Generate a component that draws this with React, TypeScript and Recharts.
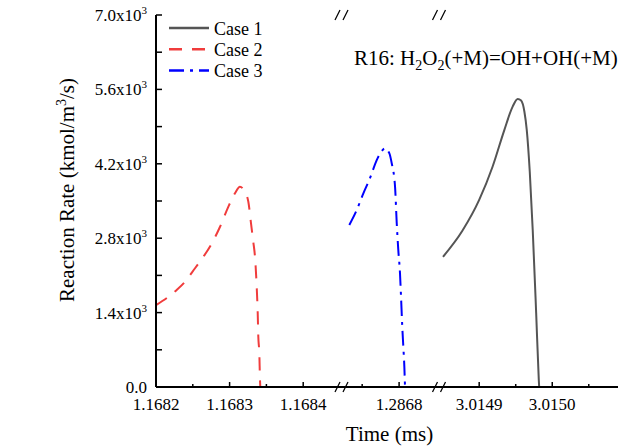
import React from "react";
import { LineChart, Line, XAxis, YAxis, Legend } from "recharts";

const FONT = '"Liberation Serif", "Times New Roman", Times, serif';

// ---------- axes ----------
const rateDomain: [number, number] = [0, 7000];
const rateMajorTicks = [0, 1400, 2800, 4200, 5600, 7000];
const rateMinorTicks = [700, 2100, 3500, 4900, 6300];

// broken time axis (ms): three segments
const seg1Domain: [number, number] = [1.1682, 1.16845];
const seg1MajorTicks = [1.1682, 1.1683, 1.1684];
const seg1MinorTicks = [1.16825, 1.16835];

const seg2Domain: [number, number] = [1.28672, 1.286854];
const seg2MajorTicks = [1.2868];
const seg2MinorTicks = [1.28675];

const seg3Domain: [number, number] = [3.014845, 3.01509];
const seg3MajorTicks = [3.0149, 3.015];
const seg3MinorTicks = [3.01495, 3.01505];

// ---------- data ----------
// Case 1 (solid gray)
const case1Seg1Time = [1.1682, 1.16845];
const case1Seg1Rate = [0, 0];
const case1Seg2Time = [1.28672, 1.286854];
const case1Seg2Rate = [0, 0];
const case1Seg3Time = [
  3.0148505, 3.014877, 3.0149, 3.0149183, 3.0149344, 3.0149458, 3.0149527, 3.0149574,
  3.0149619, 3.0149651, 3.0149692, 3.0149733, 3.014978, 3.0149816, 3.0149821,
];
const case1Seg3Rate = [
  2450, 2940, 3520, 4145, 4835, 5275, 5420, 5390, 5180, 4840, 4060, 2950, 1390, 130, 0,
];

// Case 2 (red dashed)
const case2Seg1Time = [
  1.1682, 1.1682281, 1.1682394, 1.168253, 1.1682643, 1.1682757, 1.168287, 1.1682982,
  1.1683073, 1.1683141, 1.1683196, 1.1683254, 1.1683291, 1.1683322, 1.1683345, 1.1683368,
  1.1683382, 1.168339, 1.1683404, 1.1683413, 1.1683417,
];
const case2Seg1Rate = [
  1540, 1825, 1980, 2235, 2450, 2700, 3015, 3390, 3645, 3770, 3700, 3490, 3080, 2730, 2450,
  1890, 1390, 950, 630, 130, 0,
];

// Case 3 (blue dash-dot)
const case3Seg1Time = [1.1682, 1.16845];
const case3Seg1Rate = [0, 0];
const case3Seg2Time = [
  1.2867326, 1.2867426, 1.2867515, 1.2867606, 1.2867697, 1.2867755, 1.2867809, 1.2867867,
  1.28679, 1.2867945, 1.2867968, 1.2867989, 1.2868012, 1.2868026, 1.2868043, 1.2868057,
  1.2868071, 1.286808,
];
const case3Seg2Rate = [
  3050, 3330, 3640, 3930, 4270, 4420, 4490, 4400, 4210, 3770, 3080, 2580, 2140, 1700, 1130,
  760, 380, 0,
];

type Pt = { t: number; v: number };
const zip = (ts: number[], vs: number[]): Pt[] => ts.map((t, i) => ({ t, v: vs[i] }));

const seriesStyle: Record<string, { stroke: string; dash?: string }> = {
  "Case 1": { stroke: "#555555" },
  "Case 2": { stroke: "#F03C3C", dash: "13 10" },
  "Case 3": { stroke: "#0000FF", dash: "15 6 3 6" },
};

const AXIS_LINE = { stroke: "#000", strokeWidth: 2 };

const isIn = (list: number[], v: number) => list.some((m) => Math.abs(m - v) < 1e-9);

const makeXTick = (major: number[]) => (props: any) => {
  const { x, y, payload } = props;
  const mj = isIn(major, payload.value);
  return (
    <g>
      <line x1={x} x2={x} y1={y} y2={y - (mj ? 5 : 3)} stroke="#000" strokeWidth={1.5} />
      {mj && (
        <text x={x} y={y + 23} textAnchor="middle" fontSize={17} fontFamily={FONT} fill="#000">
          {Number(payload.value).toFixed(4)}
        </text>
      )}
    </g>
  );
};

const YTick = (props: any) => {
  const { x, y, payload } = props;
  const v = payload.value;
  const mj = isIn(rateMajorTicks, v);
  return (
    <g>
      <line x1={x} x2={x + 6} y1={y} y2={y} stroke="#000" strokeWidth={1.5} />
      {mj && (
        <text x={x - 9} y={y + 6} textAnchor="end" fontSize={17} fontFamily={FONT} fill="#000">
          {v === 0 ? (
            "0.0"
          ) : (
            <>
              {(v / 1000).toFixed(1)}x10
              <tspan dy={-7} fontSize={11}>
                3
              </tspan>
            </>
          )}
        </text>
      )}
    </g>
  );
};

const YTitle = () => (
  <text
    transform="translate(74,190) rotate(-90)"
    textAnchor="middle"
    fontSize={21}
    fontFamily={FONT}
    fill="#000"
  >
    Reaction Rate (kmol/m
    <tspan dy={-8} fontSize={14}>
      3
    </tspan>
    <tspan dy={8}>/s)</tspan>
  </text>
);

const LegendBox = (props: any) => {
  const payload = props.payload || [];
  return (
    <svg width={120} height={66} style={{ display: "block" }}>
      {payload.map((entry: any, i: number) => {
        const s = seriesStyle[entry.value] || { stroke: entry.color };
        const cy = 11 + i * 21.2;
        return (
          <g key={entry.value}>
            <line
              x1={4}
              x2={44}
              y1={cy}
              y2={cy}
              stroke={s.stroke}
              strokeWidth={2.5}
              strokeDasharray={s.dash}
            />
            <text x={49} y={cy + 6.5} fontSize={18} fontFamily={FONT} fill="#000">
              {entry.value}
            </text>
          </g>
        );
      })}
    </svg>
  );
};

const lineProps = (name: string, curve: "monotone" | "linear" = "monotone") => ({
  type: curve,
  dataKey: "v",
  name,
  stroke: seriesStyle[name].stroke,
  strokeDasharray: seriesStyle[name].dash,
  strokeWidth: 2,
  dot: false,
  activeDot: false,
  isAnimationActive: false,
});

const MARGIN = { top: 15, right: 0, bottom: 0, left: 0 };

const bottomAxis = (domain: [number, number], major: number[], minor: number[], extra = {}) => (
  <XAxis
    type="number"
    dataKey="t"
    domain={domain}
    ticks={[...major, ...minor]}
    interval={0}
    tickSize={0}
    tickMargin={0}
    tickLine={false}
    tick={makeXTick(major)}
    axisLine={AXIS_LINE}
    height={61}
    {...extra}
  />
);

const topAxis = (domain: [number, number]) => (
  <XAxis
    xAxisId="top"
    orientation="top"
    type="number"
    domain={domain}
    height={0}
    tick={false}
    tickLine={false}
    axisLine={AXIS_LINE}
  />
);

export default function App() {
  const breakMark = (cx: number, cy: number) => (
    <g key={`${cx}-${cy}`} stroke="#000" strokeWidth={1.3}>
      <line x1={cx - 6.5} y1={cy + 5} x2={cx - 1.5} y2={cy - 5} />
      <line x1={cx + 1.5} y1={cy + 5} x2={cx + 6.5} y2={cy - 5} />
    </g>
  );

  return (
    <div
      style={{
        position: "absolute",
        left: 0,
        top: 0,
        width: 622,
        height: 448,
        background: "#fff",
        overflow: "hidden",
      }}
    >
      {/* annotation (beneath the charts, so the right frame edge overlaps it) */}
      <svg width={622} height={448} style={{ position: "absolute", left: 0, top: 0 }}>
        <text x={354} y={65} fontSize={21} fontFamily={FONT} fill="#000">
          R16: H
          <tspan dy={5} fontSize={14}>
            2
          </tspan>
          <tspan dy={-5}>O</tspan>
          <tspan dy={5} fontSize={14}>
            2
          </tspan>
          <tspan dy={-5}>(+M)=OH+OH(+M)</tspan>
        </text>
      </svg>

      {/* segment 1 with y axis and legend */}
      <div style={{ position: "absolute", left: 0, top: 0 }}>
        <LineChart width={340} height={448} margin={MARGIN}>
          {bottomAxis(seg1Domain, seg1MajorTicks, seg1MinorTicks)}
          {topAxis(seg1Domain)}
          <YAxis
            type="number"
            domain={rateDomain}
            ticks={[...rateMajorTicks, ...rateMinorTicks]}
            interval={0}
            width={156}
            tickSize={0}
            tickMargin={0}
            tickLine={false}
            tick={YTick}
            axisLine={AXIS_LINE}
            label={<YTitle />}
          />
          <Legend
            layout="horizontal"
            verticalAlign="middle"
            align="center"
            content={LegendBox}
            wrapperStyle={{ left: 165, top: 17, width: 120, height: 66 }}
          />
          <Line {...lineProps("Case 1", "linear")} data={zip(case1Seg1Time, case1Seg1Rate)} />
          <Line {...lineProps("Case 2")} data={zip(case2Seg1Time, case2Seg1Rate)} />
          <Line {...lineProps("Case 3", "linear")} data={zip(case3Seg1Time, case3Seg1Rate)} />
        </LineChart>
      </div>

      {/* segment 2 */}
      <div style={{ position: "absolute", left: 340, top: 0 }}>
        <LineChart width={99} height={448} margin={MARGIN}>
          {bottomAxis(seg2Domain, seg2MajorTicks, seg2MinorTicks, {
            label: {
              value: "Time (ms)",
              position: "insideBottom",
              offset: 7,
              fontSize: 21,
              fontFamily: FONT,
              fill: "#000",
            },
          })}
          {topAxis(seg2Domain)}
          <YAxis type="number" domain={rateDomain} hide />
          <Line {...lineProps("Case 1", "linear")} data={zip(case1Seg2Time, case1Seg2Rate)} />
          <Line {...lineProps("Case 3")} data={zip(case3Seg2Time, case3Seg2Rate)} />
        </LineChart>
      </div>

      {/* segment 3 */}
      <div style={{ position: "absolute", left: 439, top: 0 }}>
        <LineChart width={183} height={448} margin={{ ...MARGIN, right: 4 }}>
          {bottomAxis(seg3Domain, seg3MajorTicks, seg3MinorTicks)}
          {topAxis(seg3Domain)}
          <YAxis type="number" domain={rateDomain} hide />
          <YAxis
            yAxisId="right"
            orientation="right"
            type="number"
            domain={rateDomain}
            width={0}
            tick={false}
            tickLine={false}
            axisLine={AXIS_LINE}
          />
          <Line {...lineProps("Case 1")} data={zip(case1Seg3Time, case1Seg3Rate)} />
        </LineChart>
      </div>

      {/* axis break marks */}
      <svg
        width={622}
        height={448}
        style={{ position: "absolute", left: 0, top: 0, pointerEvents: "none" }}
      >
        {[341.5, 439].map((cx) => [breakMark(cx, 15), breakMark(cx, 387)])}
      </svg>
    </div>
  );
}
